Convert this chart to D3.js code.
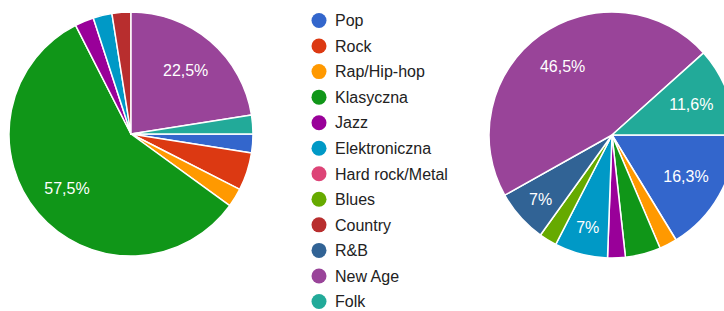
<!DOCTYPE html>
<html>
<head>
<meta charset="utf-8">
<script src="https://cdnjs.cloudflare.com/ajax/libs/d3/7.8.5/d3.min.js"></script>
<style>
  html, body { margin: 0; padding: 0; background: #fff; }
  svg { display: block; font-family: Arial, "Liberation Sans", sans-serif; }
</style>
</head>
<body>
<svg id="chart" width="724" height="311"></svg>
<script>
// genres, in legend order
var categories = ["Pop", "Rock", "Rap/Hip-hop", "Klasyczna", "Jazz", "Elektroniczna",
  "Hard rock/Metal", "Blues", "Country", "R&B", "New Age", "Folk"];
var colors = ["#3366cc", "#dc3912", "#ff9900", "#109618", "#990099", "#0099c6",
  "#dd4477", "#66aa00", "#b82e2e", "#316395", "#994499", "#22aa99"];

// answer counts per genre (left pie: 40 answers, right pie: 43 answers)
var leftValues  = [1, 2, 1, 23, 1, 1, 0, 0, 1, 0, 9, 1];
var rightValues = [7, 0, 1, 2, 1, 3, 0, 1, 0, 3, 20, 5];

var svg = d3.select("#chart");

function drawPie(values, cx, cy, r) {
  var total = d3.sum(values);
  var pie = d3.pie()
    .sort(null)
    .value(function(d) { return d; })
    .startAngle(Math.PI / 2)
    .endAngle(Math.PI / 2 + 2 * Math.PI);
  var arcs = pie(values);
  var arc = d3.arc().innerRadius(0).outerRadius(r);

  var g = svg.append("g").attr("transform", "translate(" + cx + "," + cy + ")");

  g.selectAll("path.slice")
    .data(arcs.filter(function(d) { return d.data > 0; }))
    .enter().append("path")
    .attr("class", "slice")
    .attr("d", arc)
    .attr("fill", function(d) { return colors[d.index]; })
    .attr("stroke", "#fff")
    .attr("stroke-width", 1.5)
    .attr("stroke-linejoin", "round");

  // percent labels only for slices big enough
  g.selectAll("text.lbl")
    .data(arcs.filter(function(d) { return d.data / total >= 0.06; }))
    .enter().append("text")
    .attr("class", "lbl")
    .attr("transform", function(d) {
      var share = d.data / total;
      var lr = share < 0.1 ? r * 0.78 : r * 0.69;
      var c = d3.arc().innerRadius(lr).outerRadius(lr).centroid(d);
      return "translate(" + c[0] + "," + c[1] + ")";
    })
    .attr("text-anchor", "middle")
    .attr("dy", "0.35em")
    .attr("fill", "#fff")
    .style("font-size", "16px")
    .text(function(d) {
      var p = Math.round(d.data / total * 1000) / 10;
      return String(p).replace(".", ",") + "%";
    });
}

drawPie(leftValues, 131, 134, 122);
drawPie(rightValues, 612, 135, 123);

// legend
var ly = d3.scalePoint().domain(categories).range([20.5, 301.5]);
var legend = svg.append("g").selectAll("g")
  .data(categories)
  .enter().append("g")
  .attr("transform", function(d) { return "translate(319," + ly(d) + ")"; });

legend.append("circle")
  .attr("r", 7.5)
  .attr("fill", function(d, i) { return colors[i]; });

legend.append("text")
  .attr("x", 16)
  .attr("dy", "0.36em")
  .attr("fill", "#222")
  .style("font-size", "16px")
  .text(function(d) { return d; });
</script>
</body>
</html>
